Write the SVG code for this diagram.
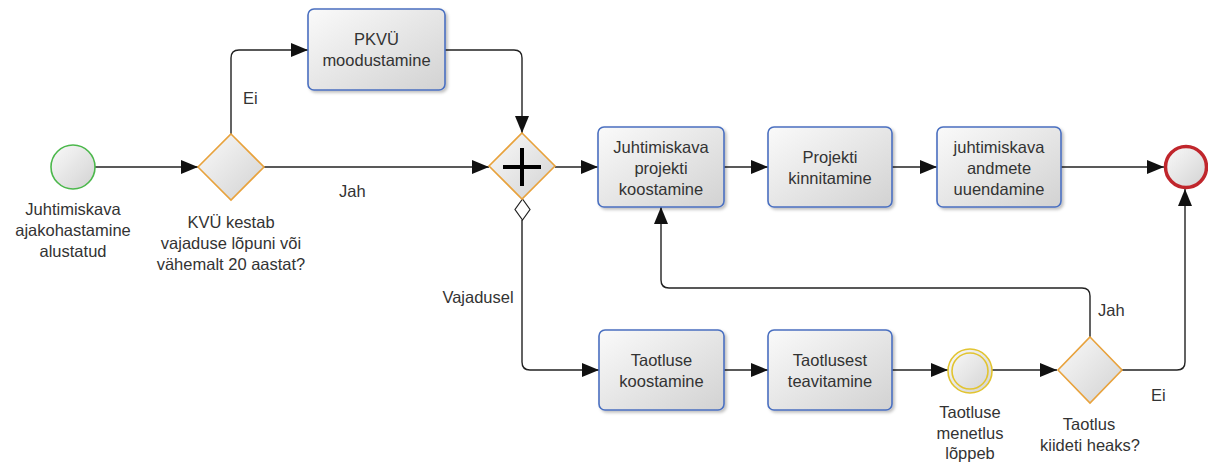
<svg xmlns="http://www.w3.org/2000/svg" width="1208" height="464" viewBox="0 0 1208 464">
<style>
text{font-family:"Liberation Sans",Arial,sans-serif;font-size:16.5px;fill:#333;text-anchor:middle}
.task{fill:url(#g);stroke:#4a6fc0;stroke-width:1.6;filter:url(#sh)}
.gw{fill:url(#g);stroke:#e8a23c;stroke-width:1.6}
.c{fill:none;stroke:#222;stroke-width:1.4}
.lbl{text-anchor:start}
</style>
<defs>
<linearGradient id="g" x1="0" y1="0" x2="1" y2="1">
<stop offset="0" stop-color="#fafafa"/>
<stop offset="1" stop-color="#d2d2d2"/>
</linearGradient>
<filter id="sh" x="-10%" y="-10%" width="130%" height="130%">
<feDropShadow dx="2" dy="2" stdDeviation="1.5" flood-color="#000" flood-opacity="0.25"/>
</filter>
<marker id="a" markerWidth="17" markerHeight="14" refX="17" refY="7" orient="auto" markerUnits="userSpaceOnUse">
<path d="M0,0 L17,7 L0,14 Z" fill="#111"/>
</marker>
</defs>

<g id="connectors">
<path class="c" d="M95,167 H198" marker-end="url(#a)"/>
<path class="c" d="M231,134 V58 Q231,50 239,50 H308" marker-end="url(#a)"/>
<path class="c" d="M445,50 H514 Q522,50 522,58 V133" marker-end="url(#a)"/>
<path class="c" d="M264,167 H489" marker-end="url(#a)"/>
<path class="c" d="M555,167 H598" marker-end="url(#a)"/>
<path class="c" d="M724,167 H768" marker-end="url(#a)"/>
<path class="c" d="M892,167 H937" marker-end="url(#a)"/>
<path class="c" d="M1061,167 H1164" marker-end="url(#a)"/>
<path class="c" d="M522,220 V362 Q522,370 530,370 H599" marker-end="url(#a)"/>
<path d="M522.5,199 L530,209.5 L522.5,220 L515,209.5 Z" fill="#fff" stroke="#222" stroke-width="1.2"/>
<path class="c" d="M724,370 H768" marker-end="url(#a)"/>
<path class="c" d="M892,370 H948" marker-end="url(#a)"/>
<path class="c" d="M992,370 H1057" marker-end="url(#a)"/>
<path class="c" d="M1122,370 H1177 Q1185,370 1185,362 V189" marker-end="url(#a)"/>
<path class="c" d="M1090,337 V296 Q1090,288 1082,288 H669 Q661,288 661,280 V207" marker-end="url(#a)"/>
<text class="lbl" x="243" y="104">Ei</text>
<text class="lbl" x="339" y="197">Jah</text>
<text x="478" y="303">Vajadusel</text>
<text class="lbl" x="1098" y="316">Jah</text>
<text class="lbl" x="1151" y="401">Ei</text>
</g>

<g id="start">
<circle cx="73" cy="167" r="22" fill="url(#g)" stroke="#4cb84c" stroke-width="1.6"/>
<text x="73" y="215">Juhtimiskava</text>
<text x="73" y="236">ajakohastamine</text>
<text x="73" y="257">alustatud</text>
</g>

<g id="gw1">
<path class="gw" d="M231,134 L264,167 L231,200 L198,167 Z"/>
<text x="231" y="228">KVÜ kestab</text>
<text x="231" y="249">vajaduse lõpuni või</text>
<text x="231" y="270">vähemalt 20 aastat?</text>
</g>

<g id="pkvu">
<rect class="task" x="308" y="9" width="137" height="81" rx="6"/>
<text x="376.5" y="45">PKVÜ</text>
<text x="376.5" y="66">moodustamine</text>
</g>

<g id="gwpar">
<path class="gw" d="M522,133 L555,166 L522,199 L489,166 Z"/>
<path d="M503,167 H541 M522,148 V186" stroke="#000" stroke-width="4"/>
</g>

<g id="t1">
<rect class="task" x="598" y="127" width="126" height="80" rx="6"/>
<text x="661" y="153">Juhtimiskava</text>
<text x="661" y="174">projekti</text>
<text x="661" y="195">koostamine</text>
</g>

<g id="t2">
<rect class="task" x="768" y="127" width="124" height="80" rx="6"/>
<text x="830" y="163">Projekti</text>
<text x="830" y="184">kinnitamine</text>
</g>

<g id="t3">
<rect class="task" x="937" y="127" width="124" height="80" rx="6"/>
<text x="999" y="153">juhtimiskava</text>
<text x="999" y="174">andmete</text>
<text x="999" y="195">uuendamine</text>
</g>

<g id="end">
<circle cx="1186" cy="167" r="20.5" fill="url(#g)" stroke="#c0262c" stroke-width="3.5"/>
</g>

<g id="t4">
<rect class="task" x="599" y="330" width="125" height="80" rx="6"/>
<text x="661.5" y="366">Taotluse</text>
<text x="661.5" y="387">koostamine</text>
</g>

<g id="t5">
<rect class="task" x="768" y="330" width="124" height="80" rx="6"/>
<text x="830" y="366">Taotlusest</text>
<text x="830" y="387">teavitamine</text>
</g>

<g id="ev">
<circle cx="970" cy="371" r="22" fill="url(#g)" stroke="#e2c430" stroke-width="1.6"/>
<circle cx="970" cy="371" r="18" fill="none" stroke="#e2c430" stroke-width="1.6"/>
<text x="970" y="418">Taotluse</text>
<text x="970" y="439">menetlus</text>
<text x="970" y="459">lõppeb</text>
</g>

<g id="gw2">
<path class="gw" d="M1090,337 L1122,370 L1090,403 L1058,370 Z"/>
<text x="1089" y="430">Taotlus</text>
<text x="1090" y="451">kiideti heaks?</text>
</g>
</svg>
